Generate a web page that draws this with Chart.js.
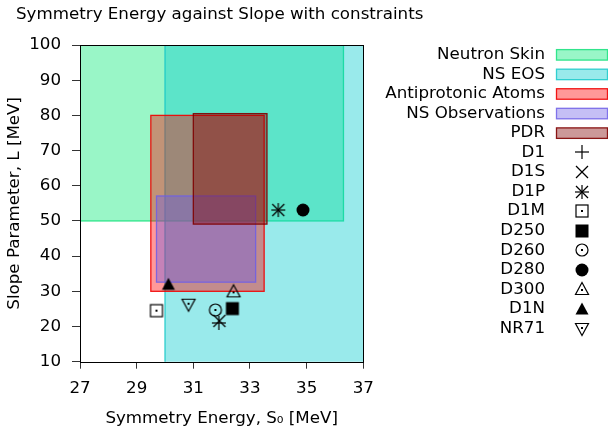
<!DOCTYPE html>
<html>
<head>
<meta charset="utf-8">
<script src="https://cdn.jsdelivr.net/npm/chart.js"></script>
<style>
  html, body { margin: 0; padding: 0; background: #fff; }
  #wrap { width: 608px; height: 429px; }
</style>
</head>
<body>
<div id="wrap"><canvas id="chart" width="608" height="429"></canvas></div>
<script>
// constraint boxes (S0 range, L range)
const constraintNames = ['Neutron Skin', 'NS EOS', 'Antiprotonic Atoms', 'NS Observations', 'PDR'];
const constraintSMin = [26.0, 30.0, 29.5, 29.7, 31.0];
const constraintSMax = [36.3, 38.0, 33.5, 33.2, 33.6];
const constraintLMin = [50.0, 0.0, 30.0, 32.6, 49.1];
const constraintLMax = [110.0, 110.0, 80.0, 57.1, 80.5];

// interactions
const forceNames = ['D1', 'D1S', 'D1P', 'D1M', 'D250', 'D260', 'D280', 'D300', 'D1N', 'NR71'];
const forceS = [31.9, 31.92, 34.0, 29.7, 32.38, 31.78, 34.87, 32.42, 30.12, 30.83];
const forceL = [21.0, 21.6, 53.1, 24.5, 25.1, 24.7, 53.1, 30.0, 32.0, 26.2];

// axis ticks
const xTicks = [27, 29, 31, 33, 35, 37];
const yTicks = [10, 20, 30, 40, 50, 60, 70, 80, 90, 100];

// styles
const boxFill = ['rgba(0,232,115,0.4)', 'rgba(0,202,205,0.4)', 'rgba(255,0,0,0.4)', 'rgba(110,95,230,0.4)', 'rgba(128,0,0,0.4)'];
const boxLine = ['rgba(20,225,125,0.85)', 'rgba(20,200,200,0.85)', 'rgba(240,0,0,0.9)', 'rgba(110,95,230,0.85)', 'rgba(128,0,0,0.9)'];
const markerKinds = ['plus', 'cross', 'star', 'osquare', 'fsquare', 'ocircle', 'fcircle', 'otri', 'ftri', 'oinv'];

const FONT = "'DejaVu Sans', sans-serif";
const FS = 16.7;
Chart.defaults.font.family = FONT;
Chart.defaults.font.size = FS;
Chart.defaults.color = '#000';

// gnuplot-like point symbols drawn on small canvases
function makeMarker(kind) {
  const c = document.createElement('canvas');
  c.width = 18; c.height = 18;
  const g = c.getContext('2d');
  const m = 9;
  g.strokeStyle = '#000';
  g.fillStyle = '#000';
  g.lineWidth = 1.2;
  const line = (x0, y0, x1, y1) => { g.beginPath(); g.moveTo(x0, y0); g.lineTo(x1, y1); g.stroke(); };
  const dot = (dy) => { g.fillRect(m - 1, m - 1 + (dy || 0), 2, 2); };
  const tri = (up) => {
    g.beginPath();
    if (up) { g.moveTo(m, m - 6.5); g.lineTo(m - 6.5, m + 5.5); g.lineTo(m + 6.5, m + 5.5); }
    else { g.moveTo(m, m + 6.5); g.lineTo(m - 6.5, m - 5.5); g.lineTo(m + 6.5, m - 5.5); }
    g.closePath();
  };
  switch (kind) {
    case 'plus': line(m - 7, m, m + 7, m); line(m, m - 7, m, m + 7); break;
    case 'cross': line(m - 6, m - 6, m + 6, m + 6); line(m - 6, m + 6, m + 6, m - 6); break;
    case 'star':
      line(m - 7, m, m + 7, m); line(m, m - 7, m, m + 7);
      line(m - 6, m - 6, m + 6, m + 6); line(m - 6, m + 6, m + 6, m - 6); break;
    case 'osquare': g.strokeRect(m - 6, m - 6, 12, 12); dot(); break;
    case 'fsquare': g.fillRect(m - 6.5, m - 6.5, 13, 13); break;
    case 'ocircle': g.beginPath(); g.arc(m, m, 6, 0, Math.PI * 2); g.stroke(); dot(); break;
    case 'fcircle': g.beginPath(); g.arc(m, m, 6.5, 0, Math.PI * 2); g.fill(); break;
    case 'otri': tri(true); g.stroke(); dot(1); break;
    case 'ftri': tri(true); g.fill(); break;
    case 'oinv': tri(false); g.stroke(); dot(-1); break;
  }
  return c;
}
const markers = markerKinds.map(makeMarker);

const boxesPlugin = {
  id: 'boxes',
  beforeDatasetsDraw(chart) {
    const { ctx, chartArea: a, scales: { x, y } } = chart;
    ctx.save();
    ctx.beginPath();
    ctx.rect(a.left, a.top, a.right - a.left, a.bottom - a.top);
    ctx.clip();
    constraintNames.forEach((n, i) => {
      const x0 = x.getPixelForValue(constraintSMin[i]);
      const x1 = x.getPixelForValue(constraintSMax[i]);
      const y0 = y.getPixelForValue(constraintLMax[i]);
      const y1 = y.getPixelForValue(constraintLMin[i]);
      ctx.fillStyle = boxFill[i];
      ctx.fillRect(x0, y0, x1 - x0, y1 - y0);
      ctx.strokeStyle = boxLine[i];
      ctx.lineWidth = 1.3;
      ctx.strokeRect(x0, y0, x1 - x0, y1 - y0);
    });
    ctx.restore();
  },
  afterDraw(chart) {
    const { ctx, chartArea: a } = chart;
    ctx.save();
    // full border
    ctx.strokeStyle = '#000';
    ctx.lineWidth = 1;
    ctx.strokeRect(Math.round(a.left) + 0.5, Math.round(a.top) + 0.5, Math.round(a.right - a.left), Math.round(a.bottom - a.top));
    // title
    ctx.font = FS + 'px ' + FONT;
    ctx.fillStyle = '#000';
    ctx.textBaseline = 'middle';
    ctx.textAlign = 'left';
    ctx.fillText('Symmetry Energy against Slope with constraints', 16, 15);
    // key
    ctx.textAlign = 'right';
    const rowY = i => 54.6 + i * 19.57;
    constraintNames.forEach((n, i) => {
      const yy = rowY(i);
      ctx.fillStyle = '#000';
      ctx.fillText(n, 545, yy);
      ctx.fillStyle = boxFill[i];
      ctx.fillRect(556.5, yy - 5, 51, 10.5);
      ctx.strokeStyle = boxLine[i];
      ctx.lineWidth = 1.3;
      ctx.strokeRect(556.5, yy - 5, 51, 10.5);
    });
    forceNames.forEach((n, j) => {
      const yy = rowY(constraintNames.length + j);
      ctx.fillStyle = '#000';
      ctx.fillText(n, 545, yy);
      ctx.drawImage(markers[j], 582 - 9, Math.round(yy) - 9);
    });
    ctx.restore();
  }
};

const datasets = forceNames.map((n, j) => ({
  label: n,
  data: [{ x: forceS[j], y: forceL[j] }],
  pointStyle: markers[j],
  pointRadius: 7,
  showLine: false
}));

new Chart(document.getElementById('chart'), {
  type: 'scatter',
  data: { datasets },
  options: {
    responsive: false,
    animation: false,
    events: [],
    layout: { padding: { top: 45, left: 0, right: 244.7, bottom: 0 } },
    plugins: { legend: { display: false }, title: { display: false }, tooltip: { enabled: false } },
    scales: {
      x: {
        type: 'linear',
        min: 27, max: 37,
        afterFit: s => { s.height = 67.3; },
        afterBuildTicks: s => { s.ticks = xTicks.map(v => ({ value: v })); },
        ticks: { padding: 10, color: '#000', font: { size: FS } },
        grid: { drawOnChartArea: false, tickLength: 7, color: '#333' },
        border: { display: false },
        title: { display: true, text: 'Symmetry Energy, S₀ [MeV]', color: '#000', font: { size: FS }, padding: { top: 0, bottom: 0 } }
      },
      y: {
        type: 'linear',
        min: 10, max: 100,
        afterFit: s => { s.width = 80; },
        afterBuildTicks: s => { s.ticks = yTicks.map(v => ({ value: v })); },
        ticks: { padding: 11, color: '#000', font: { size: FS } },
        grid: { drawOnChartArea: false, tickLength: 8, color: '#333' },
        border: { display: false },
        title: { display: true, text: 'Slope Parameter, L [MeV]', color: '#000', font: { size: FS }, padding: { top: 5, bottom: 0 } }
      }
    }
  },
  plugins: [boxesPlugin]
});
</script>
</body>
</html>
